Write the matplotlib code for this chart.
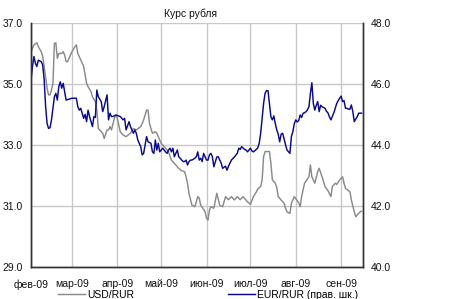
import matplotlib
matplotlib.use("Agg")
import matplotlib.pyplot as plt
import pandas as pd

plt.rcParams['font.family'] = ['Liberation Sans', 'DejaVu Sans']

title = "Курс рубля"
usd_label = "USD/RUR"
eur_label = "EUR/RUR (прав. шк.)"

usd_dates = ["2009-02-01","2009-02-03","2009-02-05","2009-02-06","2009-02-08","2009-02-09","2009-02-10",
             "2009-02-12","2009-02-13","2009-02-14","2009-02-15","2009-02-16","2009-02-17","2009-02-18",
             "2009-02-19","2009-02-20","2009-02-22","2009-02-23","2009-02-24","2009-02-25","2009-02-26",
             "2009-02-28","2009-03-01","2009-03-03","2009-03-04","2009-03-05","2009-03-07","2009-03-09",
             "2009-03-11","2009-03-12","2009-03-14","2009-03-15","2009-03-17","2009-03-18","2009-03-19",
             "2009-03-21","2009-03-22","2009-03-23","2009-03-25","2009-03-26","2009-03-27","2009-03-28",
             "2009-03-30","2009-03-31","2009-04-01","2009-04-03","2009-04-05","2009-04-07","2009-04-10",
             "2009-04-12","2009-04-14","2009-04-17","2009-04-18","2009-04-19","2009-04-21","2009-04-22",
             "2009-04-23","2009-04-25","2009-04-27","2009-04-28","2009-04-29","2009-05-01","2009-05-04",
             "2009-05-06","2009-05-08","2009-05-10","2009-05-13","2009-05-15","2009-05-17","2009-05-18",
             "2009-05-19","2009-05-20","2009-05-22","2009-05-24","2009-05-26","2009-05-27","2009-05-28",
             "2009-05-31","2009-06-01","2009-06-02","2009-06-03","2009-06-04","2009-06-06","2009-06-08",
             "2009-06-10","2009-06-12","2009-06-14","2009-06-16","2009-06-18","2009-06-20","2009-06-22",
             "2009-06-24","2009-06-26","2009-06-29","2009-07-01","2009-07-03","2009-07-05","2009-07-06",
             "2009-07-08","2009-07-09","2009-07-10","2009-07-11","2009-07-14","2009-07-15","2009-07-16",
             "2009-07-18","2009-07-19","2009-07-20","2009-07-22","2009-07-24","2009-07-25","2009-07-26",
             "2009-07-28","2009-07-29","2009-07-30","2009-07-31","2009-08-03","2009-08-04","2009-08-05",
             "2009-08-07","2009-08-10","2009-08-11","2009-08-12","2009-08-14","2009-08-16","2009-08-17",
             "2009-08-19","2009-08-21","2009-08-23","2009-08-25","2009-08-26","2009-08-28","2009-08-29",
             "2009-08-31","2009-09-02","2009-09-03","2009-09-04","2009-09-07","2009-09-08","2009-09-10",
             "2009-09-11","2009-09-12","2009-09-14","2009-09-15"]
usd_values = [36.06,36.28,36.35,36.22,36.06,35.90,35.57,
              34.86,34.64,34.64,34.80,35.02,36.33,36.35,
              35.84,36.00,36.00,36.06,35.95,35.73,35.73,
              35.95,36.06,36.22,36.28,36.00,35.79,35.57,
              35.02,34.91,34.75,34.58,34.42,34.14,33.54,
              33.43,33.38,33.21,33.49,33.49,33.60,33.49,
              33.87,33.98,33.87,33.43,33.32,33.27,33.38,
              33.54,33.49,33.60,33.70,33.82,34.14,34.14,
              33.70,33.38,33.43,33.38,33.27,33.05,32.89,
              32.77,32.50,32.39,32.23,32.15,32.12,31.95,
              31.74,31.41,31.02,30.97,31.30,31.25,31.02,
              30.81,30.59,30.53,30.86,30.97,30.92,31.41,
              31.02,30.97,31.30,31.20,31.30,31.19,31.30,
              31.20,31.30,31.13,31.05,31.30,31.45,31.55,
              31.63,31.85,32.61,32.78,32.78,32.39,31.85,
              31.74,31.60,31.30,31.19,31.08,30.92,30.80,
              30.75,31.08,31.19,31.30,31.10,30.97,31.30,
              31.74,31.95,32.34,31.95,31.74,32.12,32.23,
              31.95,31.63,31.50,31.30,31.63,31.74,31.70,
              31.85,31.95,31.74,31.57,31.46,31.19,30.80,
              30.64,30.70,30.80,30.82]

eur_dates = ["2009-02-01","2009-02-02","2009-02-03","2009-02-04","2009-02-05","2009-02-06","2009-02-08",
             "2009-02-09","2009-02-10","2009-02-11","2009-02-12","2009-02-13","2009-02-14","2009-02-15",
             "2009-02-16","2009-02-17","2009-02-18","2009-02-19","2009-02-20","2009-02-21","2009-02-22",
             "2009-02-23","2009-02-24","2009-02-25","2009-02-27","2009-03-01","2009-03-04","2009-03-05",
             "2009-03-06","2009-03-07","2009-03-09","2009-03-10","2009-03-11","2009-03-12","2009-03-13",
             "2009-03-15","2009-03-16","2009-03-17","2009-03-18","2009-03-19","2009-03-21","2009-03-22",
             "2009-03-23","2009-03-25","2009-03-26","2009-03-27","2009-03-28","2009-03-29","2009-03-31",
             "2009-04-03","2009-04-05","2009-04-06","2009-04-07","2009-04-09","2009-04-10","2009-04-11",
             "2009-04-12","2009-04-13","2009-04-14","2009-04-15","2009-04-17","2009-04-18","2009-04-19",
             "2009-04-21","2009-04-22","2009-04-24","2009-04-25","2009-04-26","2009-04-27","2009-04-28",
             "2009-04-29","2009-04-30","2009-05-01","2009-05-02","2009-05-04","2009-05-05","2009-05-06",
             "2009-05-07","2009-05-08","2009-05-09","2009-05-10","2009-05-12","2009-05-13","2009-05-14",
             "2009-05-15","2009-05-16","2009-05-17","2009-05-18","2009-05-19","2009-05-20","2009-05-21",
             "2009-05-22","2009-05-24","2009-05-25","2009-05-26","2009-05-27","2009-05-28","2009-05-29",
             "2009-05-30","2009-06-01","2009-06-02","2009-06-03","2009-06-04","2009-06-05","2009-06-06",
             "2009-06-08","2009-06-09","2009-06-11","2009-06-12","2009-06-14","2009-06-15","2009-06-16",
             "2009-06-18","2009-06-20","2009-06-22","2009-06-23","2009-06-24","2009-06-25","2009-06-27",
             "2009-06-28","2009-06-29","2009-07-01","2009-07-02","2009-07-03","2009-07-05","2009-07-06",
             "2009-07-07","2009-07-08","2009-07-10","2009-07-11","2009-07-12","2009-07-13","2009-07-14",
             "2009-07-15","2009-07-16","2009-07-17","2009-07-18","2009-07-19","2009-07-20","2009-07-21",
             "2009-07-22","2009-07-23","2009-07-24","2009-07-25","2009-07-26","2009-07-28","2009-07-29",
             "2009-07-30","2009-07-31","2009-08-01","2009-08-02","2009-08-03","2009-08-04","2009-08-05",
             "2009-08-06","2009-08-07","2009-08-08","2009-08-09","2009-08-10","2009-08-11","2009-08-12",
             "2009-08-13","2009-08-14","2009-08-15","2009-08-16","2009-08-17","2009-08-18","2009-08-19",
             "2009-08-21","2009-08-22","2009-08-23","2009-08-24","2009-08-25","2009-08-27","2009-08-28",
             "2009-08-29","2009-08-30","2009-08-31","2009-09-01","2009-09-02","2009-09-03","2009-09-04",
             "2009-09-05","2009-09-06","2009-09-07","2009-09-08","2009-09-09","2009-09-10","2009-09-11",
             "2009-09-12","2009-09-13","2009-09-15"]
eur_values = [46.13,46.57,46.90,46.68,46.57,46.78,46.73,
              46.62,46.13,45.25,44.70,44.54,44.56,44.82,
              45.20,45.58,45.69,45.47,45.91,46.07,45.86,
              46.02,45.75,45.47,45.50,45.53,45.53,45.25,
              45.14,45.20,44.87,45.00,44.76,45.14,44.93,
              44.60,44.93,44.90,45.80,45.58,45.42,45.09,
              45.25,45.64,44.82,45.04,44.93,44.93,44.98,
              44.93,44.82,44.87,44.49,44.76,44.60,44.49,
              44.38,44.49,44.38,44.16,43.94,43.67,43.72,
              44.27,44.10,44.05,43.77,43.72,44.16,43.83,
              44.05,43.77,43.83,43.89,43.77,43.72,43.83,
              43.89,43.77,43.89,43.61,43.83,43.61,43.56,
              43.50,43.45,43.45,43.50,43.34,43.45,43.50,
              43.50,43.56,43.61,43.77,43.50,43.56,43.45,
              43.72,43.50,43.50,43.67,43.72,43.61,43.28,
              43.60,43.61,43.40,43.23,43.30,43.17,43.30,
              43.50,43.60,43.72,43.89,43.85,43.94,43.85,
              43.83,43.77,43.89,43.80,43.77,43.85,43.90,
              44.05,44.38,45.36,45.69,45.78,45.78,45.36,
              44.92,44.82,44.95,44.70,44.49,44.35,44.10,
              44.35,44.38,44.20,44.00,43.83,43.72,44.27,
              44.43,44.70,44.82,44.75,44.80,44.98,44.90,
              45.04,45.05,45.09,45.15,45.25,45.69,46.04,
              45.36,45.14,45.30,45.42,45.09,45.30,45.25,
              45.20,45.10,45.05,44.92,44.82,45.05,45.20,
              45.36,45.45,45.53,45.60,45.42,45.45,45.20,
              45.20,45.17,45.17,45.31,45.09,44.76,44.85,
              44.92,45.04,45.04]

usd_x = pd.to_datetime(usd_dates)
eur_x = pd.to_datetime(eur_dates)

month_ticks = pd.to_datetime(["2009-02-01","2009-03-01","2009-04-01","2009-05-01",
                              "2009-06-01","2009-07-01","2009-08-01","2009-09-01"])
month_labels = ["фев-09","мар-09","апр-09","май-09","июн-09","июл-09","авг-09","сен-09"]
usd_ticks = [29, 31, 33, 35, 37]
eur_ticks = [40, 42, 44, 46, 48]

W, H = 462, 299
fig = plt.figure(figsize=(W/100, H/100), dpi=100)
ax = fig.add_axes([31/W, 1-266.7/H, (362.7-31)/W, (266.7-23)/H])
ax2 = ax.twinx()

gray = "#8a8a8a"
navy = "#0a0a8c"
grid_c = "#c8c8c8"

l1, = ax.plot(usd_x, usd_values, color=gray, lw=1.05, label=usd_label)
l2, = ax2.plot(eur_x, eur_values, color=navy, lw=1.05, label=eur_label)

ax.set_ylim(29, 37)
ax.set_yticks(usd_ticks)
ax.set_yticklabels([f"{v:.1f}" for v in usd_ticks])
ax2.set_ylim(40, 48)
ax2.set_yticks(eur_ticks)
ax2.set_yticklabels([f"{v:.1f}" for v in eur_ticks])

ax.set_xlim(pd.Timestamp("2009-02-01"), pd.Timestamp("2009-09-15 18:00"))
ax.set_xticks(month_ticks)
ax.set_xticklabels(month_labels)

ax.grid(True, color=grid_c, lw=1.0)
ax.set_axisbelow(True)

for a in (ax, ax2):
    a.spines['top'].set_visible(False)
    for s in ('left', 'right', 'bottom'):
        a.spines[s].set_color("#333333")
        a.spines[s].set_linewidth(1.0)
    a.tick_params(length=0, labelsize=7.5, colors="#111111")
ax.tick_params(axis='x', pad=9)
ax.tick_params(axis='y', pad=6)
ax2.tick_params(axis='y', pad=6)

fig.text(190/W, 1-14/H, title, ha='center', va='center', fontsize=7.5, color="#111111")

fig.legend(handles=[l1, l2], loc='center', bbox_to_anchor=(208/W, 1-295/H), ncol=2,
           frameon=False, fontsize=7.5, handlelength=2.6, handletextpad=0.2,
           columnspacing=9.0, borderpad=0)

fig.savefig("out.png", dpi=100)
